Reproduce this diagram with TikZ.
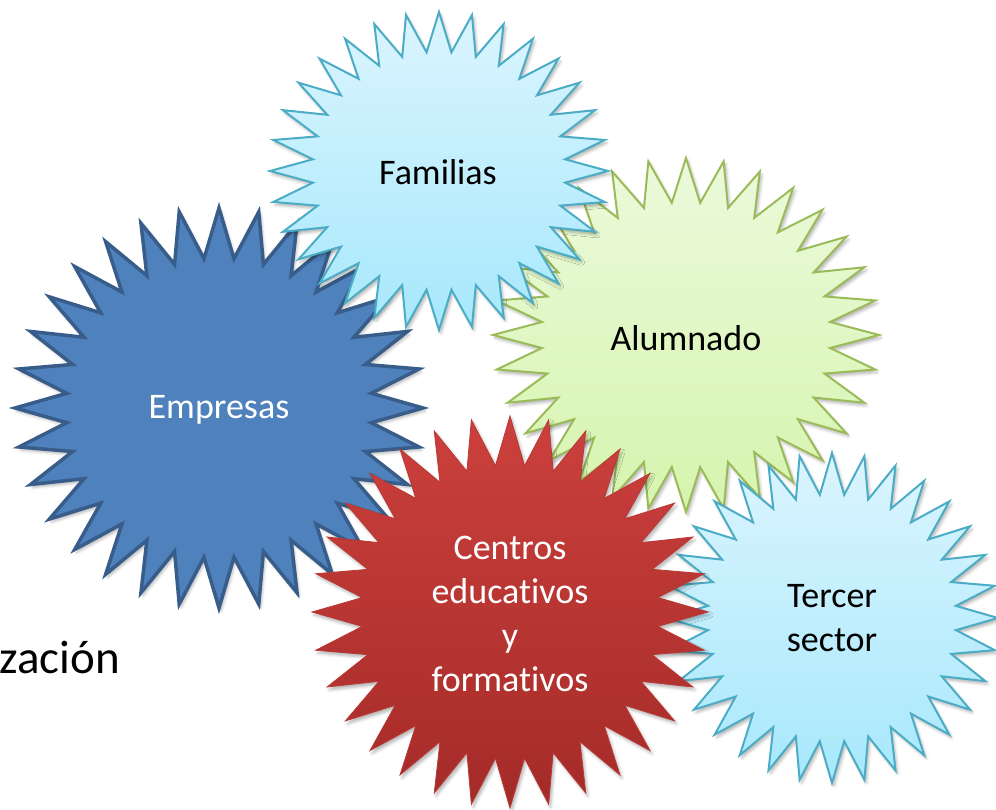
\documentclass[tikz,border=0pt]{standalone}
\usepackage{fontspec}
\setmainfont{Carlito}[Ligatures=NoCommon]
\usepackage{tikz}
\usetikzlibrary{calc,shadows.blur}
\definecolor{empfill}{HTML}{4F81BD}
\definecolor{empline}{HTML}{385D8A}
\definecolor{aquatop}{HTML}{DBF5FE}
\definecolor{aquabot}{HTML}{A7E8FC}
\definecolor{aqualine}{HTML}{4BACC6}
\definecolor{greentop}{HTML}{EBFADB}
\definecolor{greenbot}{HTML}{D6F4AE}
\definecolor{greenline}{HTML}{9BBB59}
\definecolor{redtop}{HTML}{CC403D}
\definecolor{redbot}{HTML}{A42B28}
\definecolor{redline}{HTML}{B93834}
\tikzset{
  burst/.style={line join=miter, blur shadow={shadow xshift=2pt, shadow yshift=-3pt, shadow opacity=30, shadow blur radius=3pt}},
  empburst/.style={burst, fill=empfill, draw=empline, line width=3.5pt},
  aquaburst/.style={burst, top color=aquatop, bottom color=aquabot, draw=aqualine, line width=2pt},
  greenburst/.style={burst, top color=greentop, bottom color=greenbot, draw=greenline, line width=2pt},
  redburst/.style={burst, top color=redtop, bottom color=redbot, draw=redline, line width=0.8pt},
  lab/.style={font=\fontsize{36}{44}\selectfont, align=center, text=black},
  wlab/.style={lab, text=white}
}
% 32-point star: centre, x radius, y radius, style
\newcommand{\burstpath}[4]{%
  \path[#4] ($(#1)+(90:#2 and #3)$)
    \foreach \k in {1,...,63}{
      -- ($(#1)+({90+5.625*\k}:{#2*(1-0.25*mod(\k,2))} and {#3*(1-0.25*mod(\k,2))})$)
    } -- cycle;
}
\begin{document}
\begin{tikzpicture}[x=1pt,y=1pt]
  \useasboundingbox (0,0) rectangle (996,810);

  % centres of the stars
  \coordinate (E) at (219,402);
  \coordinate (A) at (686,475);
  \coordinate (F) at (439,639);
  \coordinate (T) at (832,192);
  \coordinate (C) at (510,198);

  % back to front
  \burstpath{E}{204}{200}{empburst}
  \burstpath{A}{193}{177}{greenburst}
  \burstpath{F}{169}{159}{aquaburst}
  \burstpath{T}{166}{165}{aquaburst}
  \burstpath{C}{198}{196}{redburst}

  % labels
  \node[wlab] (emp) at (219,400) {Empresas};
  \node[lab] (alu) at (686,472) {Alumnado};
  \node[lab] (fam) at (438,638) {Familias};
  \node[lab] (ter) at (832,192) {Tercer\\sector};
  \node[wlab] (cen) at (510,196) {Centros\\educativos\\y\\formativos};

  \node[lab, font=\fontsize{47}{50}\selectfont, anchor=base east, inner sep=0pt] (org) at (120,136) {zación};
\end{tikzpicture}
\end{document}
